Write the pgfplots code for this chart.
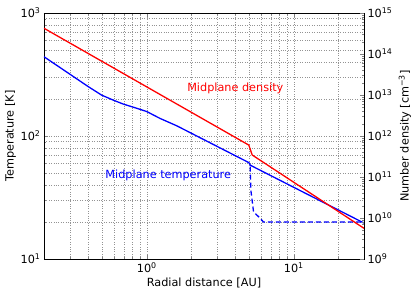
\documentclass[border=0pt]{standalone}
\usepackage{fontspec}
\setmainfont{DejaVu Sans}
\usepackage{pgfplots}
\pgfplotsset{compat=1.18}

\begin{document}
\begin{tikzpicture}
\pgfplotsset{
  every axis/.append style={font=\fontsize{11.3}{13.5}\selectfont},
}
\begin{axis}[
  name=ax,
  width=320bp, height=246bp, scale only axis,
  xmode=log, ymode=log, log basis x=10, log basis y=10,
  xmin=0.2, xmax=30, ymin=10, ymax=1000,
  xtick={1,10}, ytick={10,100,1000},
  minor xtick={0.2,0.3,0.4,0.5,0.6,0.7,0.8,0.9,2,3,4,5,6,7,8,9,20,30},
  minor ytick={20,30,40,50,60,70,80,90,200,300,400,500,600,700,800,900},
  xticklabel={10\textsuperscript{\pgfmathparse{int(round(\tick))}\pgfmathresult}},
  yticklabel={10\textsuperscript{\pgfmathparse{int(round(\tick))}\pgfmathresult}},
  ytick pos=left,
  tick align=inside,
  major tick length=4bp, minor tick length=2bp,
  grid=both,
  major grid style={dotted, gray!85, line width=0.5pt},
  minor grid style={dotted, gray!85, line width=0.5pt},
  axis line style={black, line width=0.8pt},
  xlabel={Radial distance [AU]},
  ylabel={Temperature [K]},
  xlabel style={at={(axis description cs:0.5,-0.098)}, anchor=center},
  ylabel style={at={(axis description cs:-0.105,0.5)}, anchor=center},
  clip=true,
]
\addplot[blue, line width=1.3pt] coordinates {
  (0.2,441) (0.3,318) (0.4,252) (0.493,215) (0.59,196) (0.69,182)
  (0.855,168) (1.0,158) (1.23,139) (1.6,121) (4.94,60.8) (5.07,57.8) (30,19.6)
};
\addplot[blue, line width=1.3pt, dash pattern=on 5bp off 3bp] coordinates {
  (5.05,56.3) (5.1,36.4) (5.32,24.2) (5.75,22.1) (6.22,20.0) (30,20.0)
};
\node[red, anchor=center] at (axis cs:4.0,246) {Midplane density};
\node[blue, anchor=center] at (axis cs:1.40,48.2) {Midplane temperature};
\end{axis}
\begin{axis}[
  width=320bp, height=246bp, scale only axis,
  xmode=log, ymode=log, log basis x=10, log basis y=10,
  xmin=0.2, xmax=30, ymin=1e9, ymax=1e15,
  axis x line=none,
  axis y line*=right,
  ytick={1e9,1e10,1e11,1e12,1e13,1e14,1e15},
  minor ytick={2e9,3e9,4e9,5e9,6e9,7e9,8e9,9e9,
    2e10,3e10,4e10,5e10,6e10,7e10,8e10,9e10,
    2e11,3e11,4e11,5e11,6e11,7e11,8e11,9e11,
    2e12,3e12,4e12,5e12,6e12,7e12,8e12,9e12,
    2e13,3e13,4e13,5e13,6e13,7e13,8e13,9e13,
    2e14,3e14,4e14,5e14,6e14,7e14,8e14,9e14},
  yticklabel={10\textsuperscript{\pgfmathparse{int(round(\tick))}\pgfmathresult}},
  tick align=inside,
  major tick length=4bp, minor tick length=2bp,
  axis line style={black, line width=0.8pt},
  ylabel={Number density [cm\textsuperscript{−3}]},
  ylabel style={at={(axis description cs:1.128,0.5)}, anchor=center},
]
\addplot[red, line width=1.3pt] coordinates {
  (0.2,4.24e14) (4.94,6.0e11) (5.21,3.44e11) (30,5.6e9)
};
\end{axis}
\path[use as bounding box] ([xshift=-44bp,yshift=-36bp]ax.south west) rectangle ([xshift=52bp,yshift=13bp]ax.north east);
\end{tikzpicture}
\end{document}
